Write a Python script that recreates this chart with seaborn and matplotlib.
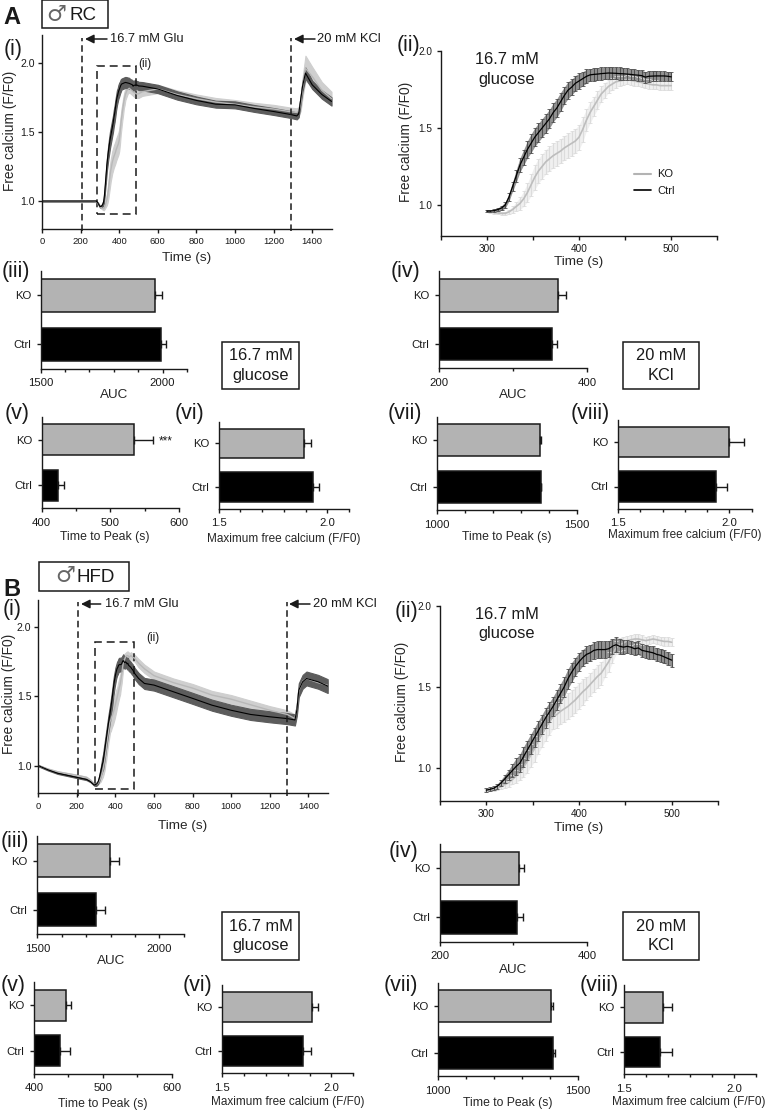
"""
Free calcium traces and summary bars, male RC (A) and HFD (B) islets.
Layout is in image pixels of the 768x1111 reference, values are read off the picture.
"""
import matplotlib
matplotlib.use("Agg")
import matplotlib.pyplot as plt
import numpy as np
import seaborn as sns
from matplotlib.lines import Line2D
from matplotlib.patches import FancyArrowPatch, Rectangle
from matplotlib.transforms import Affine2D

W, H = 768, 1111

# zoomed traces, 300-500 s
zoom_t = list(range(300, 501, 4))
rc_ctrl = [.96, .96, .963, .97, .98, 1.0, 1.05, 1.12, 1.19, 1.26,
           1.31, 1.36, 1.40, 1.44, 1.47, 1.50, 1.53, 1.56, 1.60, 1.63,
           1.67, 1.71, 1.745, 1.765, 1.79, 1.805, 1.82, 1.835, 1.845, 1.848,
           1.85, 1.853, 1.855, 1.857, 1.856, 1.855, 1.853, 1.852, 1.85, 1.848,
           1.845, 1.843, 1.84, 1.83, 1.836, 1.837, 1.838, 1.838, 1.838, 1.836, 1.832]
rc_ctrl_sem = [.006, .006, .008, .012, .015, .02, .025, .03, .04, .045,
               .05, .055, .06, .06, .06, .06, .06, .06, .06, .06,
               .06, .055, .055, .05, .05, .05, .045, .045, .04, .04,
               .04, .04, .04, .04, .04, .04, .04, .04, .04, .035,
               .035, .035, .035, .035, .035, .035, .035, .03, .03, .03, .03]
rc_ko = [.96, .955, .95, .948, .945, .945, .955, .97, .99, 1.01,
         1.04, 1.08, 1.13, 1.18, 1.22, 1.25, 1.28, 1.30, 1.32, 1.335,
         1.35, 1.37, 1.385, 1.40, 1.415, 1.44, 1.49, 1.55, 1.60, 1.64,
         1.68, 1.72, 1.745, 1.77, 1.785, 1.80, 1.805, 1.81, 1.815, 1.81,
         1.805, 1.80, 1.795, 1.79, 1.785, 1.78, 1.78, 1.775, 1.775, 1.775, 1.775]
rc_ko_sem = [.006, .006, .006, .008, .01, .012, .015, .02, .03, .04,
             .05, .06, .07, .08, .08, .08, .08, .08, .08, .08,
             .08, .08, .08, .08, .08, .08, .08, .07, .07, .06,
             .06, .05, .05, .04, .04, .04, .03, .03, .03, .03,
             .03, .03, .03, .03, .03, .03, .03, .03, .03, .03, .03]
hfd_ctrl = [.865, .87, .877, .89, .91, .935, .96, .985, 1.01, 1.03,
            1.07, 1.11, 1.15, 1.19, 1.23, 1.27, 1.31, 1.345, 1.38, 1.42,
            1.46, 1.50, 1.55, 1.59, 1.625, 1.655, 1.68, 1.70, 1.71, 1.725,
            1.73, 1.73, 1.73, 1.735, 1.75, 1.76, 1.75, 1.745, 1.75, 1.745,
            1.735, 1.74, 1.725, 1.72, 1.715, 1.71, 1.70, 1.695, 1.685, 1.675, 1.665]
hfd_ctrl_sem = [.012, .012, .012, .015, .02, .025, .03, .04, .05, .055,
                .06, .06, .06, .06, .06, .06, .06, .06, .06, .06,
                .06, .06, .06, .06, .055, .055, .05, .05, .05, .05,
                .05, .05, .05, .05, .045, .045, .045, .045, .04, .04,
                .04, .04, .04, .04, .04, .04, .04, .04, .04, .04, .04]
hfd_ko = [.865, .868, .872, .878, .89, .90, .91, .93, .95, .975,
          1.005, 1.04, 1.08, 1.12, 1.17, 1.21, 1.25, 1.285, 1.32, 1.33,
          1.35, 1.365, 1.38, 1.40, 1.42, 1.445, 1.47, 1.49, 1.515, 1.54,
          1.565, 1.585, 1.62, 1.655, 1.70, 1.74, 1.76, 1.77, 1.785, 1.79,
          1.795, 1.795, 1.79, 1.785, 1.79, 1.795, 1.79, 1.785, 1.78, 1.78, 1.775]
hfd_ko_sem = [.008, .008, .01, .012, .015, .02, .025, .03, .04, .05,
              .06, .07, .07, .08, .08, .08, .08, .08, .08, .08,
              .08, .08, .08, .08, .08, .08, .08, .07, .07, .07,
              .07, .07, .06, .06, .05, .04, .04, .04, .03, .03,
              .03, .03, .03, .025, .025, .025, .025, .025, .025, .025, .025]

# rest of the full traces, before and after the zoomed window
rc_pre_t = [0, 100, 200, 260, 280, 290]
rc_ctrl_pre = [1.0, 1.0, 1.0, 1.0, 1.0, .985]
rc_ko_pre = [1.0, 1.0, 1.0, 1.0, .995, .98]
rc_post_t = [520, 600, 700, 800, 900, 1000, 1100, 1200, 1290, 1320,
             1330, 1340, 1350, 1365, 1400, 1450, 1500]
rc_ctrl_post = [1.83, 1.81, 1.763, 1.727, 1.70, 1.695, 1.669, 1.647, 1.625, 1.615,
                1.63, 1.73, 1.83, 1.925, 1.84, 1.77, 1.72]
rc_ctrl_post_sem = [.03, .03, .03, .028, .025, .025, .025, .025, .025, .025,
                    .025, .03, .035, .04, .03, .03, .03]
rc_ko_post = [1.79, 1.81, 1.77, 1.74, 1.715, 1.70, 1.68, 1.665, 1.645, 1.64,
              1.65, 1.70, 1.82, 1.96, 1.90, 1.80, 1.74]
rc_ko_post_sem = [.03, .03, .03, .03, .03, .03, .03, .03, .03, .03,
                  .03, .05, .07, .09, .07, .06, .05]

hfd_pre_t = [0, 50, 100, 200, 250, 270, 290]
hfd_ctrl_pre = [1.0, .97, .945, .915, .90, .885, .86]
hfd_ko_pre = [1.0, .975, .955, .93, .915, .895, .865]
hfd_post_t = [520, 550, 600, 700, 800, 900, 1000, 1100, 1200, 1290,
              1330, 1340, 1350, 1370, 1390, 1450, 1500]
hfd_ctrl_post = [1.63, 1.594, 1.582, 1.534, 1.486, 1.437, 1.40, 1.37, 1.353, 1.34,
                 1.33, 1.40, 1.545, 1.606, 1.63, 1.606, 1.575]
hfd_ctrl_post_sem = [.04, .04, .04, .04, .04, .04, .04, .04, .04, .04,
                     .04, .04, .05, .05, .05, .05, .05]
hfd_ko_post = [1.74, 1.70, 1.65, 1.60, 1.56, 1.51, 1.48, 1.44, 1.40, 1.37,
               1.34, 1.41, 1.54, 1.61, 1.63, 1.60, 1.58]
hfd_ko_post_sem = [.03, .03, .03, .03, .03, .03, .03, .03, .03, .03,
                   .03, .03, .03, .03, .03, .03, .03]

# bars, always KO then Ctrl
groups = ["KO", "Ctrl"]
rc_glu_auc, rc_glu_auc_err = [1967, 1993], [29, 21]
rc_kcl_auc, rc_kcl_auc_err = [361, 352.7], [10, 7]
rc_glu_ttp, rc_glu_ttp_err = [535, 424], [27, 8]
rc_glu_max, rc_glu_max_err = [1.894, 1.936], [.032, .026]
rc_kcl_ttp, rc_kcl_ttp_err = [1369, 1372.6], [2, 1]
rc_kcl_max, rc_kcl_max_err = [2.0, 1.941], [.065, .048]
hfd_glu_auc, hfd_glu_auc_err = [1799, 1739], [34, 39]
hfd_kcl_auc, hfd_kcl_auc_err = [307.7, 304.5], [6.8, 9]
hfd_glu_ttp, hfd_glu_ttp_err = [446, 438.3], [7.8, 14]
hfd_glu_max, hfd_glu_max_err = [1.91, 1.869], [.029, .038]
hfd_kcl_ttp, hfd_kcl_ttp_err = [1405, 1411], [4, 6]
hfd_kcl_max, hfd_kcl_max_err = [1.676, 1.664], [.041, .056]

KO_GREY = "#b3b3b3"
INK = "#1a1a1a"
MAX_LABEL = "Maximum free calcium (F/F0)"
TTP_LABEL = "Time to Peak (s)"
Y_LABEL = "Free calcium (F/F0)"

sns.set_theme(style="ticks")
plt.rcParams["font.family"] = ["Liberation Sans", "DejaVu Sans"]
plt.rcParams["axes.linewidth"] = 1.0
plt.rcParams["axes.edgecolor"] = INK
plt.rcParams["text.color"] = INK
plt.rcParams["xtick.color"] = INK
plt.rcParams["ytick.color"] = INK

fig = plt.figure(figsize=(W / 100, H / 100), dpi=100)
px = Affine2D().scale(1 / W, -1 / H).translate(0, 1) + fig.transFigure


def px_axes(left, top, right, bottom):
    ax = fig.add_axes([left / W, 1 - bottom / H, (right - left) / W, (bottom - top) / H])
    ax.patch.set_alpha(0)
    sns.despine(ax=ax)
    return ax


def px_text(x, y, s, size=9, ha="center", **kw):
    fig.text(x, y, s, transform=px, fontsize=size, ha=ha, va="center", **kw)


def label_axes(ax, xlabel, xpos, ylabel=None, ypos=None, xsize=9.7):
    ax.set_xlabel(xlabel, fontsize=xsize, ha="center", va="center")
    ax.xaxis.set_label_coords(xpos[0], xpos[1], transform=px)
    if ylabel:
        ax.set_ylabel(ylabel, fontsize=9.9, ha="center", va="center")
        ax.yaxis.set_label_coords(ypos[0], ypos[1], transform=px)
    else:
        ax.set_ylabel("")


def full_trace(ax, t, ko, ko_sem, ctrl, ctrl_sem):
    t, ko, ko_sem, ctrl, ctrl_sem = map(np.array, (t, ko, ko_sem, ctrl, ctrl_sem))
    ax.fill_between(t, ko - ko_sem, ko + ko_sem, color="#cfcfcf", lw=0.8)
    sns.lineplot(x=t, y=ko, color="#b8b8b8", lw=1, ax=ax, errorbar=None)
    ax.fill_between(t, ctrl - ctrl_sem, ctrl + ctrl_sem, color="#5c5c5c", lw=0.8)
    sns.lineplot(x=t, y=ctrl, color="black", lw=0.8, ax=ax, errorbar=None)
    ax.set_xlim(0, 1500)
    ax.set_ylim(0.8, 2.2)
    ax.set_xticks(range(0, 1401, 200))
    ax.set_yticks([1.0, 1.5, 2.0], ["1.0", "1.5", "2.0"])
    ax.tick_params(axis="x", labelsize=6.8, length=3, width=1, pad=3)
    ax.tick_params(axis="y", labelsize=7.6, length=3, width=1, pad=2)


def zoom_trace(ax, ko, ko_sem, ctrl, ctrl_sem):
    t, ko, ko_sem, ctrl, ctrl_sem = map(np.array, (zoom_t, ko, ko_sem, ctrl, ctrl_sem))
    ax.fill_between(t, ko - ko_sem, ko + ko_sem, color="#f0f0f0", lw=0)
    ax.errorbar(t, ko, yerr=ko_sem, fmt="none", ecolor="#dcdcdc", elinewidth=0.8,
                capsize=1.4, capthick=0.6)
    sns.lineplot(x=t, y=ko, color="#bdbdbd", lw=1.2, ax=ax, errorbar=None)
    ax.fill_between(t, ctrl - ctrl_sem, ctrl + ctrl_sem, color="#929292", lw=0)
    ax.errorbar(t, ctrl, yerr=ctrl_sem, fmt="none", ecolor="#505050", elinewidth=0.8,
                capsize=1.4, capthick=0.6)
    sns.lineplot(x=t, y=ctrl, color="black", lw=0.9, ax=ax, errorbar=None)
    ax.set_xlim(250, 550)
    ax.set_ylim(0.8, 2.0)
    ax.set_xticks([300, 400, 500], ["300", "400", "500"])
    ax.set_xticks([250, 350, 450, 550], minor=True)
    ax.set_yticks([1.0, 1.5, 2.0], ["1.0", "1.5", "2.0"])
    ax.tick_params(axis="both", which="major", labelsize=7.2, length=3, width=1, pad=3)
    ax.tick_params(axis="x", which="minor", length=3, width=1)


def bar_panel(box, bar_w, vals, errs, limits, major, major_labels, minor):
    ax = px_axes(*box)
    sns.barplot(x=vals, y=groups, hue=groups, palette={"KO": KO_GREY, "Ctrl": "black"},
                width=bar_w, edgecolor=INK, linewidth=1.1, legend=False, ax=ax)
    ax.errorbar(vals, [0, 1], xerr=[[0, 0], errs], fmt="none", ecolor=INK, elinewidth=1,
                capsize=3, capthick=1)
    ax.set_xlim(*limits)
    ax.set_ylim(1.5, -0.5)
    ax.set_xticks(major, major_labels)
    ax.set_xticks(minor, minor=True)
    ax.tick_params(axis="both", which="major", labelsize=8.2, length=3, width=1, pad=4)
    ax.tick_params(axis="x", which="minor", length=2, width=1)
    return ax


def marker_lines(ax, glu_x, kcl_x, box_x, box_y):
    for x in (glu_x, kcl_x):
        ax.plot([x, x], [0.78, 2.18], color=INK, lw=1.1, ls=(0, (4.3, 2.6)), clip_on=False)
    ax.add_patch(Rectangle((box_x[0], box_y[0]), box_x[1] - box_x[0], box_y[1] - box_y[0],
                           fill=False, ec=INK, lw=1.1, ls=(0, (5.2, 3.2))))


def arrow(x0, x1, y):
    fig.add_artist(FancyArrowPatch((x0, y), (x1, y), transform=px, arrowstyle="-|>",
                                   mutation_scale=13, color=INK, lw=1.1, shrinkA=0, shrinkB=0))


def framed(x0, y0, x1, y1, s=None, size=12):
    fig.add_artist(Rectangle((x0, y1), x1 - x0, y0 - y1, transform=px, fill=False, ec=INK, lw=1.1))
    if s:
        px_text((x0 + x1) / 2, (y0 + y1) / 2, s, size=size, linespacing=1.38)


major_auc, minor_auc = [1500, 2000], [1600, 1700, 1800, 1900, 2100]
major_ttp, minor_ttp = [400, 500, 600], [450, 550]
major_max, minor_max = [1.5, 2.0], [1.6, 1.7, 1.8, 1.9, 2.1]
major_kttp, minor_kttp = [1000, 1500], [1100, 1200, 1300, 1400]

# ---- panel A ----
ax = px_axes(42, 35, 331.5, 228.7)
full_trace(ax, rc_pre_t + zoom_t + rc_post_t,
           rc_ko_pre + rc_ko + rc_ko_post,
           [.004] * 6 + rc_ko_sem + rc_ko_post_sem,
           rc_ctrl_pre + rc_ctrl + rc_ctrl_post,
           [.004] * 6 + rc_ctrl_sem + rc_ctrl_post_sem)
marker_lines(ax, 207, 1290, (285.5, 489.6), (0.903, 1.974))
label_axes(ax, "Time (s)", (187, 258), Y_LABEL, (10, 131))

ax = px_axes(440.7, 51, 717.3, 235.7)
zoom_trace(ax, rc_ko, rc_ko_sem, rc_ctrl, rc_ctrl_sem)
label_axes(ax, "Time (s)", (579, 262), Y_LABEL, (406, 142))
ax.legend(handles=[Line2D([], [], color=KO_GREY, lw=1.5, label="KO"),
                   Line2D([], [], color="black", lw=1.2, label="Ctrl")],
          loc="center left", bbox_to_anchor=(634, 182.5), bbox_transform=px, frameon=False,
          fontsize=8, handlelength=1.5, handletextpad=0.6, labelspacing=0.55,
          borderpad=0, borderaxespad=0)

ax = bar_panel((40.7, 271, 187, 368.7), 0.67, rc_glu_auc, rc_glu_auc_err, (1500, 2100),
               major_auc, ["1500", "2000"], minor_auc)
label_axes(ax, "AUC", (114, 395))
ax = bar_panel((439.3, 271, 587.3, 368.3), 0.67, rc_kcl_auc, rc_kcl_auc_err, (200, 400),
               [200, 400], ["200", "400"], [300])
label_axes(ax, "AUC", (513, 395))
ax = bar_panel((41.7, 416.8, 179, 508.3), 0.68, rc_glu_ttp, rc_glu_ttp_err, (400, 600),
               major_ttp, ["400", "500", "600"], minor_ttp)
label_axes(ax, TTP_LABEL, (105, 537), xsize=8.8)
ax = bar_panel((218.7, 421.6, 349, 508.6), 0.68, rc_glu_max, rc_glu_max_err, (1.5, 2.1),
               major_max, ["1.5", "2.0"], minor_max)
label_axes(ax, MAX_LABEL, (284, 539), xsize=8.5)
ax = bar_panel((436.7, 417.3, 576.7, 510), 0.69, rc_kcl_ttp, rc_kcl_ttp_err, (1000, 1500),
               major_kttp, ["1000", "1500"], minor_kttp)
label_axes(ax, TTP_LABEL, (507, 537), xsize=8.8)
ax = bar_panel((618, 420.2, 751.7, 508.6), 0.68, rc_kcl_max, rc_kcl_max_err, (1.5, 2.1),
               major_max, ["1.5", "2.0"], minor_max)
label_axes(ax, MAX_LABEL, (684.6, 535), xsize=8.5)

# ---- panel B ----
ax = px_axes(38.3, 599.6, 327.7, 793.3)
full_trace(ax, hfd_pre_t + zoom_t + hfd_post_t,
           hfd_ko_pre + hfd_ko + hfd_ko_post,
           [.005] * 7 + hfd_ko_sem + hfd_ko_post_sem,
           hfd_ctrl_pre + hfd_ctrl + hfd_ctrl_post,
           [.005] * 7 + hfd_ctrl_sem + hfd_ctrl_post_sem)
marker_lines(ax, 207, 1289, (294, 497), (0.83, 1.894))
label_axes(ax, "Time (s)", (183, 826), Y_LABEL, (9, 694))

ax = px_axes(440, 605.7, 718, 800.7)
zoom_trace(ax, hfd_ko, hfd_ko_sem, hfd_ctrl, hfd_ctrl_sem)
label_axes(ax, "Time (s)", (579, 828), Y_LABEL, (402, 702))

ax = bar_panel((37.3, 836.4, 183.7, 934.2), 0.67, hfd_glu_auc, hfd_glu_auc_err, (1500, 2100),
               major_auc, ["1500", "2000"], minor_auc)
label_axes(ax, "AUC", (111, 961))
ax = bar_panel((439.7, 843.7, 587, 941.7), 0.67, hfd_kcl_auc, hfd_kcl_auc_err, (200, 400),
               [200, 400], ["200", "400"], [300])
label_axes(ax, "AUC", (513, 970))
ax = bar_panel((34, 982.3, 171.7, 1073.5), 0.68, hfd_glu_ttp, hfd_glu_ttp_err, (400, 600),
               major_ttp, ["400", "500", "600"], minor_ttp)
label_axes(ax, TTP_LABEL, (103, 1104), xsize=8.8)
ax = bar_panel((222.3, 985.3, 353.3, 1072.9), 0.68, hfd_glu_max, hfd_glu_max_err, (1.5, 2.1),
               major_max, ["1.5", "2.0"], minor_max)
label_axes(ax, MAX_LABEL, (288, 1102), xsize=8.5)
ax = bar_panel((438, 983.2, 578, 1076), 0.69, hfd_kcl_ttp, hfd_kcl_ttp_err, (1000, 1500),
               major_kttp, ["1000", "1500"], minor_kttp)
label_axes(ax, TTP_LABEL, (508, 1103), xsize=8.8)
ax = bar_panel((623.7, 985.4, 756.3, 1073.8), 0.68, hfd_kcl_max, hfd_kcl_max_err, (1.5, 2.1),
               major_max, ["1.5", "2.0"], minor_max)
label_axes(ax, MAX_LABEL, (689, 1102), xsize=8.5)

# ---- letters, roman numerals, stimulus notes ----
px_text(12, 18, "A", size=17, weight="bold")
px_text(12, 590, "B", size=17, weight="bold")
framed(42, 0.5, 108, 28.3)
px_text(56, 15, "♂", size=16, family=["DejaVu Sans"], color="#666666")
px_text(83, 16, "RC", size=13.5)
framed(39, 562, 129, 590.5)
px_text(65, 576, "♂", size=16, family=["DejaVu Sans"], color="#666666")
px_text(96, 577, "HFD", size=13.5)

roman = [("(i)", 13, 49), ("(ii)", 408, 45), ("(iii)", 16, 271), ("(iv)", 405, 271),
         ("(v)", 17, 414), ("(vi)", 190, 414), ("(vii)", 405, 414), ("(viii)", 590, 414),
         ("(i)", 12, 610), ("(ii)", 406, 611), ("(iii)", 15, 842), ("(iv)", 403, 851),
         ("(v)", 13, 986), ("(vi)", 198, 986), ("(vii)", 401, 986), ("(viii)", 599, 986)]
for s, x, y in roman:
    px_text(x, y, s, size=15.5)

px_text(110, 39, "16.7 mM Glu", size=9.3, ha="left")
px_text(317, 39, "20 mM KCl", size=9.3, ha="left")
px_text(105, 604, "16.7 mM Glu", size=9.3, ha="left")
px_text(312.7, 604, "20 mM KCl", size=9.3, ha="left")
arrow(107, 85, 39)
arrow(315, 294, 39)
arrow(100.7, 81, 604)
arrow(310, 289, 604)
px_text(145, 63.5, "(ii)", size=8.5)
px_text(153, 638, "(ii)", size=8.5)

px_text(507, 69.5, "16.7 mM\nglucose", size=11.8, linespacing=1.38)
px_text(507, 624, "16.7 mM\nglucose", size=11.8, linespacing=1.38)
framed(222.3, 341.7, 299, 389.3, "16.7 mM\nglucose", 11.8)
framed(622.7, 341.7, 699, 389.3, "20 mM\nKCl", 11.8)
framed(222.3, 911.7, 299, 960, "16.7 mM\nglucose", 11.8)
framed(622.7, 911.7, 699, 960, "20 mM\nKCl", 11.8)
px_text(166, 441, "***", size=8.5)

fig.savefig("out.png", dpi=100)
